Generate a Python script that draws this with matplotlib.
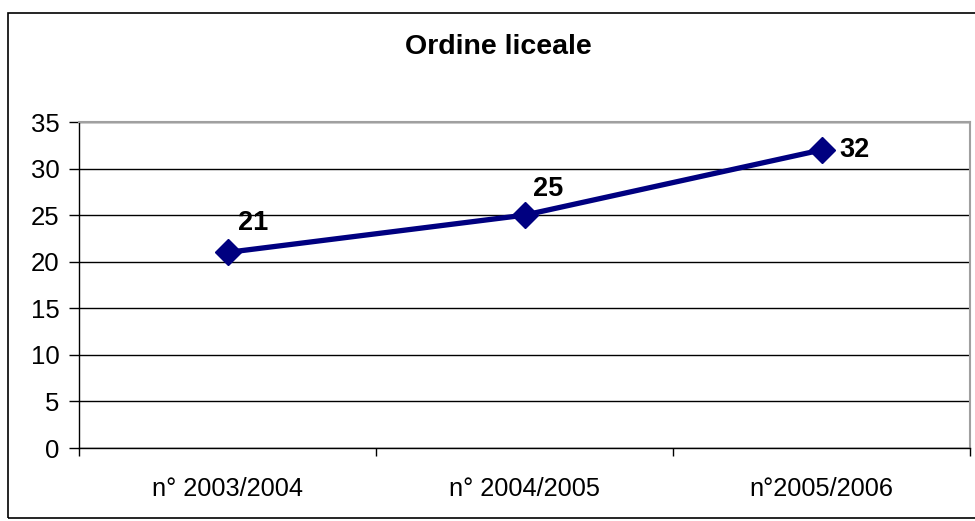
import matplotlib.pyplot as plt
from matplotlib.patches import Rectangle

categories = ["n° 2003/2004", "n° 2004/2005", "n°2005/2006"]
values = [21, 25, 32]
title = "Ordine liceale"
yticks = [0, 5, 10, 15, 20, 25, 30, 35]

plt.rcParams['font.family'] = ['Liberation Sans', 'DejaVu Sans']

fig = plt.figure(figsize=(9.75, 5.21), dpi=100)
ax = fig.add_axes([79 / 975, 73 / 521, 891 / 975, 326 / 521])

# outer chart border
fig.patches.append(Rectangle((8 / 975, 3 / 521), 1.0, 505 / 521, transform=fig.transFigure,
                             fill=False, edgecolor='black', linewidth=1.2))

x = [i + 0.5 for i in range(len(values))]
ax.plot(x, values, color='#000080', linewidth=3.8, marker='D', markersize=13.5,
        markeredgecolor='#000080', zorder=3)

# data labels
offsets = [(26, 29), (24, 26), (33, 0)]
for xi, v, (dx, dy) in zip(x, values, offsets):
    ax.annotate(str(v), (xi, v), xytext=(dx * 0.72, dy * 0.72), textcoords='offset points',
                ha='center', va='center', fontsize=19.5, fontweight='bold')

ax.set_xlim(0, 3)
ax.set_ylim(0, 35)
ax.set_yticks(yticks)
ax.set_xticks([0, 1, 2, 3])
ax.set_xticklabels([])
ax.set_xticks(x, minor=True)
ax.set_xticklabels(categories, minor=True, fontsize=18.3)
ax.tick_params(axis='x', which='minor', length=0, pad=21)
ax.tick_params(axis='x', which='major', length=6, direction='out', width=1)
ax.tick_params(axis='y', length=7, direction='out', width=1, labelsize=18.5, pad=7)

ax.yaxis.grid(True, color='black', linewidth=1)
ax.set_axisbelow(True)

ax.spines['top'].set_color('#a0a0a0')
ax.spines['right'].set_color('#a0a0a0')
ax.spines['top'].set_linewidth(1.5)
ax.spines['right'].set_linewidth(1.5)
ax.spines['left'].set_linewidth(1)
ax.spines['bottom'].set_linewidth(1)

fig.text(498 / 975, 1 - 47 / 521, title, ha='center', va='center', fontsize=20.5, fontweight='bold')

fig.savefig('out.png', dpi=100)
